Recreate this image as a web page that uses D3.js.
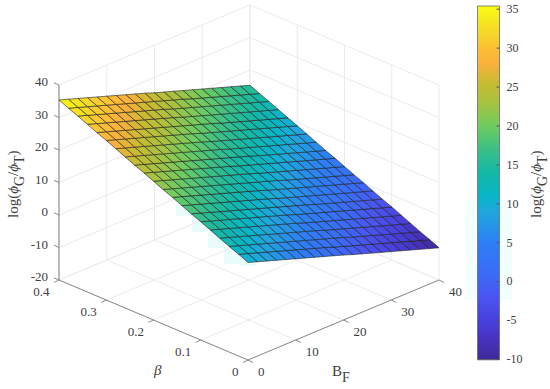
<!DOCTYPE html>
<html lang="en">

<head>
    <meta charset="UTF-8">
    <title>log(phiG/phiT) surface</title>
    <script src="https://d3js.org/d3.v7.min.js"></script>
    <style>
        html, body { margin: 0; padding: 0; background: #fff; }
        svg { display: block; }
        text { font-family: "Liberation Serif", serif; fill: #404040; }
    </style>
</head>

<body>
    <svg width="550" height="389"></svg>

    <script>
        // data
        const bfValues = [0, 2, 4, 6, 8, 10, 12, 14, 16, 18, 20, 22, 24, 26, 28, 30, 32, 34, 36, 38, 40];
        const betaValues = [0, 0.02, 0.04, 0.06, 0.08, 0.1, 0.12, 0.14, 0.16, 0.18, 0.2, 0.22, 0.24, 0.26, 0.28, 0.3, 0.32, 0.34, 0.36, 0.38, 0.4];
        // one row per beta, one column per BF
        const logRatio = [
            [10.0, 9.0, 8.0, 7.0, 6.0, 5.0, 4.0, 3.0, 2.0, 1.0, 0.0, -1.1, -2.1, -3.1, -4.1, -5.1, -6.1, -7.1, -8.1, -9.1, -10.1],
            [11.3, 10.3, 9.3, 8.3, 7.3, 6.3, 5.3, 4.3, 3.3, 2.3, 1.2, 0.2, -0.8, -1.8, -2.8, -3.8, -4.8, -5.8, -6.8, -7.8, -8.8],
            [12.5, 11.5, 10.5, 9.5, 8.5, 7.5, 6.5, 5.5, 4.5, 3.5, 2.5, 1.5, 0.5, -0.6, -1.6, -2.6, -3.6, -4.6, -5.6, -6.6, -7.6],
            [13.8, 12.8, 11.8, 10.8, 9.8, 8.8, 7.8, 6.8, 5.8, 4.8, 3.8, 2.7, 1.7, 0.7, -0.3, -1.3, -2.3, -3.3, -4.3, -5.3, -6.3],
            [15.1, 14.1, 13.1, 12.1, 11.1, 10.1, 9.1, 8.1, 7.1, 6.1, 5.0, 4.0, 3.0, 2.0, 1.0, 0.0, -1.0, -2.0, -3.0, -4.0, -5.0],
            [16.4, 15.4, 14.4, 13.4, 12.4, 11.4, 10.4, 9.4, 8.4, 7.4, 6.3, 5.3, 4.3, 3.3, 2.3, 1.3, 0.3, -0.7, -1.7, -2.7, -3.7],
            [17.6, 16.6, 15.6, 14.6, 13.6, 12.6, 11.6, 10.6, 9.6, 8.6, 7.6, 6.6, 5.6, 4.5, 3.5, 2.5, 1.5, 0.5, -0.5, -1.5, -2.5],
            [18.9, 17.9, 16.9, 15.9, 14.9, 13.9, 12.9, 11.9, 10.9, 9.9, 8.8, 7.8, 6.8, 5.8, 4.8, 3.8, 2.8, 1.8, 0.8, -0.2, -1.2],
            [20.2, 19.2, 18.2, 17.2, 16.2, 15.2, 14.2, 13.2, 12.2, 11.2, 10.1, 9.1, 8.1, 7.1, 6.1, 5.1, 4.1, 3.1, 2.1, 1.1, 0.1],
            [21.4, 20.4, 19.4, 18.4, 17.4, 16.4, 15.4, 14.4, 13.4, 12.4, 11.4, 10.4, 9.4, 8.3, 7.3, 6.3, 5.3, 4.3, 3.3, 2.3, 1.3],
            [22.7, 21.7, 20.7, 19.7, 18.7, 17.7, 16.7, 15.7, 14.7, 13.7, 12.7, 11.6, 10.6, 9.6, 8.6, 7.6, 6.6, 5.6, 4.6, 3.6, 2.6],
            [24.0, 23.0, 22.0, 21.0, 20.0, 19.0, 18.0, 17.0, 16.0, 15.0, 13.9, 12.9, 11.9, 10.9, 9.9, 8.9, 7.9, 6.9, 5.9, 4.9, 3.9],
            [25.2, 24.2, 23.2, 22.2, 21.2, 20.2, 19.2, 18.2, 17.2, 16.2, 15.2, 14.2, 13.2, 12.1, 11.1, 10.1, 9.1, 8.1, 7.1, 6.1, 5.1],
            [26.5, 25.5, 24.5, 23.5, 22.5, 21.5, 20.5, 19.5, 18.5, 17.5, 16.5, 15.4, 14.4, 13.4, 12.4, 11.4, 10.4, 9.4, 8.4, 7.4, 6.4],
            [27.8, 26.8, 25.8, 24.8, 23.8, 22.8, 21.8, 20.8, 19.8, 18.8, 17.7, 16.7, 15.7, 14.7, 13.7, 12.7, 11.7, 10.7, 9.7, 8.7, 7.7],
            [29.1, 28.1, 27.1, 26.1, 25.1, 24.1, 23.1, 22.1, 21.1, 20.1, 19.0, 18.0, 17.0, 16.0, 15.0, 14.0, 13.0, 12.0, 11.0, 10.0, 9.0],
            [30.3, 29.3, 28.3, 27.3, 26.3, 25.3, 24.3, 23.3, 22.3, 21.3, 20.3, 19.3, 18.3, 17.2, 16.2, 15.2, 14.2, 13.2, 12.2, 11.2, 10.2],
            [31.6, 30.6, 29.6, 28.6, 27.6, 26.6, 25.6, 24.6, 23.6, 22.6, 21.5, 20.5, 19.5, 18.5, 17.5, 16.5, 15.5, 14.5, 13.5, 12.5, 11.5],
            [32.9, 31.9, 30.9, 29.9, 28.9, 27.9, 26.9, 25.9, 24.9, 23.9, 22.8, 21.8, 20.8, 19.8, 18.8, 17.8, 16.8, 15.8, 14.8, 13.8, 12.8],
            [34.1, 33.1, 32.1, 31.1, 30.1, 29.1, 28.1, 27.1, 26.1, 25.1, 24.1, 23.1, 22.1, 21.0, 20.0, 19.0, 18.0, 17.0, 16.0, 15.0, 14.0],
            [35.4, 34.4, 33.4, 32.4, 31.4, 30.4, 29.4, 28.4, 27.4, 26.4, 25.3, 24.3, 23.3, 22.3, 21.3, 20.3, 19.3, 18.3, 17.3, 16.3, 15.3]
        ];
        const bfTicks = [0, 10, 20, 30, 40];
        const betaTicks = [0, 0.1, 0.2, 0.3, 0.4];
        const zTicks = [-20, -10, 0, 10, 20, 30, 40];
        const colorTicks = [-10, -5, 0, 5, 10, 15, 20, 25, 30, 35];
        // colormap as seen on the colorbar
        const colorValues = [-10.07, -8, -5, -2, 1, 5, 9, 11, 14, 17, 20, 23, 25.5, 28, 30, 32, 35.35];
        const colorStops = ["#3f2a9a", "#4530b8", "#4840df", "#4a55f0", "#3a6cf7", "#2d7ff5", "#1fa8dc", "#08b5c8", "#14b8a5", "#3cbf85", "#70cc60", "#a9c23f", "#c8bb32", "#fbb03c", "#fcc033", "#f5d828", "#f9fb15"];

        const svg = d3.select("svg");
        const color = d3.scaleLinear().domain(colorValues).range(colorStops).interpolate(d3.interpolateRgb);

        // 3D projection, one scale per axis and screen direction
        const originX = 248, originY = 360;
        const bfX = d3.scaleLinear().domain([0, 40]).range([0, 191]);
        const bfY = d3.scaleLinear().domain([0, 40]).range([0, -80]);
        const betaX = d3.scaleLinear().domain([0, 0.4]).range([0, -189]);
        const betaY = d3.scaleLinear().domain([0, 0.4]).range([0, -80]);
        const zY = d3.scaleLinear().domain([-20, 40]).range([0, -195]);
        const project = (bf, beta, z) => [originX + bfX(bf) + betaX(beta), originY + bfY(bf) + betaY(beta) + zY(z)];

        const line3d = (g, a, b, stroke, width) => {
            const p = project(...a), q = project(...b);
            g.append("line")
                .attr("x1", p[0]).attr("y1", p[1])
                .attr("x2", q[0]).attr("y2", q[1])
                .attr("stroke", stroke)
                .attr("stroke-width", width);
        };

        // faint cyan blocks the compressed picture has around the surface edge and colorbar
        const halo = svg.append("g").attr("fill", "#e9fdfd");
        [[176, 203, 16, 13], [192, 216, 16, 16], [208, 232, 16, 16], [224, 248, 16, 16], [240, 258, 16, 8]].forEach(b => {
            halo.append("rect").attr("x", b[0]).attr("y", b[1]).attr("width", b[2]).attr("height", b[3]);
        });
        halo.append("rect").attr("x", 465).attr("y", 200).attr("width", 47).attr("height", 100).attr("fill", "#f3fefe");

        // grid
        const grid = svg.append("g");
        const gridColor = "#ebebeb";
        bfTicks.forEach(b => {
            line3d(grid, [b, 0, -20], [b, 0.4, -20], gridColor, 1);
            line3d(grid, [b, 0.4, -20], [b, 0.4, 40], gridColor, 1);
        });
        betaTicks.forEach(b => {
            line3d(grid, [0, b, -20], [40, b, -20], gridColor, 1);
            line3d(grid, [40, b, -20], [40, b, 40], gridColor, 1);
        });
        zTicks.forEach(z => {
            line3d(grid, [0, 0.4, z], [40, 0.4, z], gridColor, 1);
            line3d(grid, [40, 0.4, z], [40, 0, z], gridColor, 1);
        });

        // axes
        const axes = svg.append("g");
        line3d(axes, [0, 0, -20], [40, 0, -20], "#8a8a8a", 1);
        line3d(axes, [0, 0, -20], [0, 0.4, -20], "#8a8a8a", 1);
        line3d(axes, [0, 0.4, -20], [0, 0.4, 40], "#a0a0a0", 1.4);
        bfTicks.forEach(b => {
            const p = project(b, 0, -20);
            axes.append("line").attr("x1", p[0]).attr("y1", p[1]).attr("x2", p[0] + 5).attr("y2", p[1] + 2.4).attr("stroke", "#8a8a8a");
            axes.append("text").attr("x", p[0] + 10).attr("y", p[1] + 16).attr("text-anchor", "start").attr("font-size", 13).text(b);
        });
        betaTicks.forEach(b => {
            const p = project(0, b, -20);
            axes.append("line").attr("x1", p[0]).attr("y1", p[1]).attr("x2", p[0] - 5).attr("y2", p[1] + 2.4).attr("stroke", "#8a8a8a");
            axes.append("text").attr("x", p[0] - 9.5).attr("y", p[1] + 16).attr("text-anchor", "end").attr("font-size", 13).text(b);
        });
        zTicks.forEach(z => {
            const p = project(0, 0.4, z);
            axes.append("line").attr("x1", p[0]).attr("y1", p[1]).attr("x2", p[0] - 5).attr("y2", p[1] - 2.2).attr("stroke", "#8a8a8a");
            axes.append("text").attr("x", p[0] - 11).attr("y", p[1] + 1).attr("text-anchor", "end").attr("font-size", 13).text(z);
        });

        // surface, one flat cell per grid square
        const cells = [];
        d3.range(betaValues.length - 1).forEach(j => {
            d3.range(bfValues.length - 1).forEach(i => {
                cells.push({
                    pts: [[i, j], [i + 1, j], [i + 1, j + 1], [i, j + 1]]
                        .map(c => project(bfValues[c[0]], betaValues[c[1]], logRatio[c[1]][c[0]])),
                    value: d3.mean([logRatio[j][i], logRatio[j][i + 1], logRatio[j + 1][i], logRatio[j + 1][i + 1]])
                });
            });
        });
        svg.append("g").selectAll("polygon")
            .data(cells)
            .enter().append("polygon")
            .attr("points", d => d.pts.join(" "))
            .attr("fill", d => color(d.value))
            .attr("stroke", "#1c1c1c")
            .attr("stroke-opacity", 0.75)
            .attr("stroke-width", 0.8)
            .attr("stroke-linejoin", "round");

        // axis titles
        const logLabel = (g) => {
            g.attr("font-size", 15);
            g.append("tspan").text("log(");
            g.append("tspan").attr("font-style", "italic").text("\u03d5");
            g.append("tspan").attr("dy", 5.5).attr("font-size", 14).text("G");
            g.append("tspan").attr("dy", -5.5).text("/");
            g.append("tspan").attr("font-style", "italic").text("\u03d5");
            g.append("tspan").attr("dy", 5.5).attr("font-size", 14).text("T");
            g.append("tspan").attr("dy", -5.5).text(")");
        };
        svg.append("text").attr("transform", "translate(18,218) rotate(-90)").call(logLabel);
        svg.append("text").attr("transform", "translate(541,218) rotate(-90)").call(logLabel);
        svg.append("text").attr("x", 154).attr("y", 375).attr("font-size", 15).attr("font-style", "italic").text("\u03b2");
        const bfTitle = svg.append("text").attr("x", 332).attr("y", 376).attr("font-size", 15);
        bfTitle.append("tspan").text("B");
        bfTitle.append("tspan").attr("dy", 6).attr("font-size", 14).text("F");

        // colorbar
        const cbarLeft = 477.5, cbarRight = 499.5;
        const cbarY = d3.scaleLinear().domain([-10.07, 35.35]).range([359.5, 6]);
        const cbar = svg.append("g");
        cbar.selectAll("rect")
            .data(d3.range(6, 359.5, 1))
            .enter().append("rect")
            .attr("x", cbarLeft)
            .attr("y", d => d)
            .attr("width", cbarRight - cbarLeft)
            .attr("height", 1.2)
            .attr("fill", d => color(cbarY.invert(d + 0.5)));
        cbar.append("rect")
            .attr("x", cbarLeft).attr("y", 6)
            .attr("width", cbarRight - cbarLeft).attr("height", 353.5)
            .attr("fill", "none").attr("stroke", "#6e6e6e").attr("stroke-width", 0.8);
        const cbarAxis = svg.append("g")
            .attr("transform", `translate(${cbarRight},0)`)
            .call(d3.axisRight(cbarY).tickValues(colorTicks).tickSize(-3).tickPadding(7).tickFormat(d => d));
        cbarAxis.select(".domain").remove();
        cbarAxis.selectAll("line").attr("stroke", "#555");
        cbarAxis.selectAll("text").attr("font-size", 12).attr("font-family", '"Liberation Serif", serif').attr("fill", "#404040");
    </script>
</body>

</html>
